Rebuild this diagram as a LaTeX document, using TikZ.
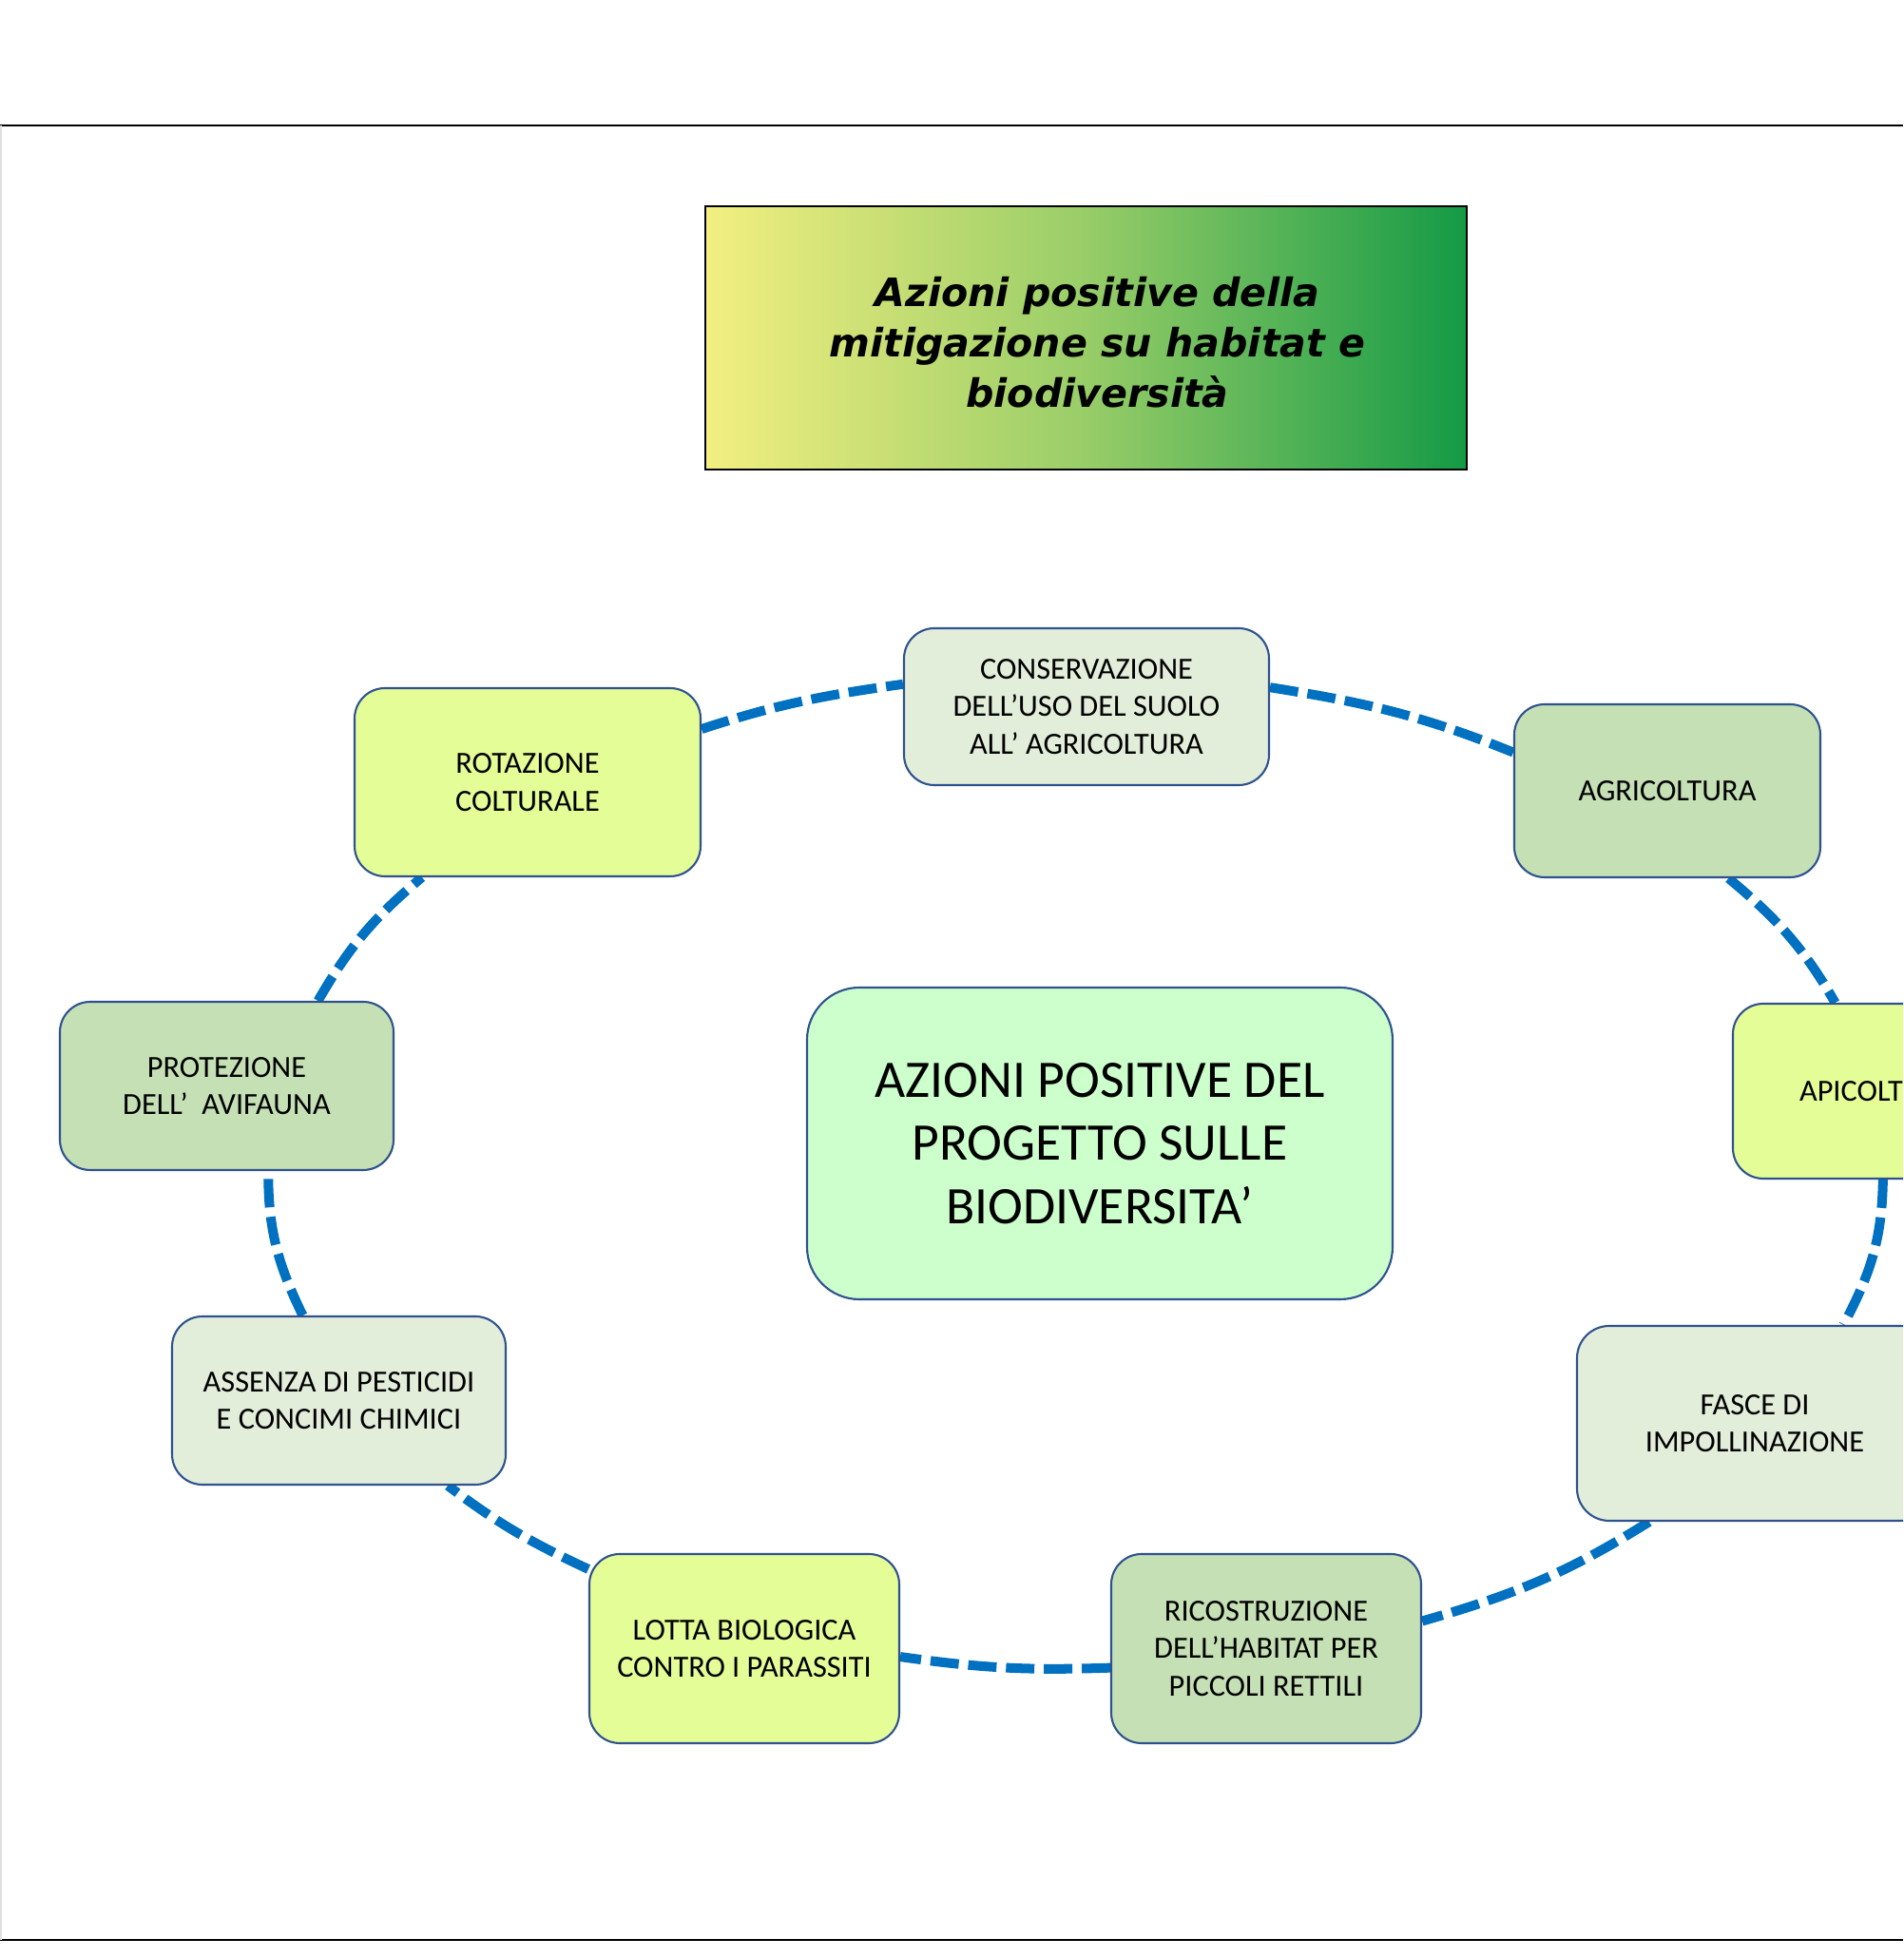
\documentclass[tikz,border=0pt]{standalone}
\usepackage{fontspec}
\setmainfont{Carlito}
\newfontfamily\titlefont{DejaVu Sans}
\usetikzlibrary{positioning}
\definecolor{boxline}{RGB}{47,82,143}
\definecolor{ringblue}{RGB}{0,112,192}
\definecolor{palefill}{RGB}{226,238,218}
\definecolor{greenfill}{RGB}{197,224,180}
\definecolor{limefill}{RGB}{228,253,150}
\definecolor{mintfill}{RGB}{204,255,204}
\definecolor{tyellow}{RGB}{243,239,128}
\definecolor{tmid}{RGB}{152,205,104}
\definecolor{tgreen}{RGB}{20,154,70}
\pgfdeclarelayer{bg}
\pgfsetlayers{bg,main}
\tikzstyle{box}=[shape=rectangle, rounded corners=0.32cm, draw=boxline, line width=0.6pt, align=center, inner sep=2pt, font=\fontsize{9.2}{11.2}\selectfont]
\tikzstyle{boxp}=[box, fill=palefill]
\tikzstyle{boxg}=[box, fill=greenfill]
\tikzstyle{boxy}=[box, fill=limefill]
\tikzstyle{ring}=[draw=ringblue, line width=2.85pt, dash pattern=on 8.5pt off 2.85pt]

\begin{document}
\begin{tikzpicture}
\useasboundingbox (0,0) rectangle (20.02,20.6);
\clip (0,0) rectangle (20.02,20.6);
%slide frame
\draw[line width=0.6pt] (0,19.28) -- (20.02,19.28);
\draw[line width=0.6pt] (0,0.19) -- (20.02,0.19);
\draw[black!12, line width=0.3pt] (0.01,0.19) -- (0.01,19.28);
%title
\node[draw=black, line width=0.6pt, left color=tyellow, right color=tgreen, middle color=tmid, minimum width=8.01cm, minimum height=2.77cm] (title) at (11.425,17.045) {};
\node[align=center, font=\titlefont\bfseries\itshape\fontsize{11.7}{15.1}\selectfont] (titletext) at ([xshift=0.12cm, yshift=-0.05cm]title.center) {Azioni positive della\\mitigazione su habitat e\\biodiversità};
%centre
\node[box, fill=mintfill, rounded corners=0.55cm, minimum width=6.16cm, minimum height=3.28cm, font=\fontsize{15.8}{18.9}\selectfont] (hub) at (11.57,8.57) {AZIONI POSITIVE DEL\\PROGETTO SULLE\\BIODIVERSITA’};
%boxes round the ring
\node[boxp, minimum width=3.84cm, minimum height=1.65cm] (cons) at (11.43,13.165) {CONSERVAZIONE\\DELL’USO DEL SUOLO\\ALL’ AGRICOLTURA};
\node[boxy, minimum width=3.64cm, minimum height=1.98cm] (rot) at (5.55,12.37) {ROTAZIONE\\COLTURALE};
\node[boxg, minimum width=3.22cm, minimum height=1.82cm] (agri) at (17.54,12.28) {AGRICOLTURA};
\node[boxy, minimum width=3.06cm, minimum height=1.84cm] (api) at (19.76,9.12) {APICOLTURA};
\node[boxp, minimum width=3.74cm, minimum height=2.05cm, rounded corners=0.34cm] (fasce) at (18.46,5.625) {FASCE DI\\IMPOLLINAZIONE};
\node[boxg, minimum width=3.26cm, minimum height=1.99cm] (ric) at (13.32,3.255) {RICOSTRUZIONE\\DELL’HABITAT PER\\PICCOLI RETTILI};
\node[boxy, minimum width=3.26cm, minimum height=1.99cm] (lotta) at (7.83,3.255) {LOTTA BIOLOGICA\\CONTRO I PARASSITI};
\node[boxp, minimum width=3.51cm, minimum height=1.77cm] (ass) at (3.565,5.865) {ASSENZA DI PESTICIDI\\E CONCIMI CHIMICI};
\node[boxg, minimum width=3.51cm, minimum height=1.77cm] (prot) at (2.385,9.175) {PROTEZIONE\\DELL’~ AVIFAUNA};
%ring
\begin{pgfonlayer}{bg}
\draw[ring] (rot.17) to[out=18, in=188] (cons.173);
\draw[ring] (cons.6) to[out=-9, in=158] (agri.166);
\draw[ring] (agri.305) to[out=-40, in=120] (api.116);
\draw[ring] (api.273) to[out=-91, in=62] (fasce.48);
\draw[ring] (fasce.223) to[out=212, in=16] (ric.10);
\draw[ring] (ric.187) to[out=182, in=-8] (lotta.357);
\draw[ring] (lotta.153) to[out=155, in=-37] (ass.322);
\draw[ring] (ass.113) to[out=116, in=-90] (prot.296);
\draw[ring] (prot.43) to[out=60, in=220] (rot.222);
\end{pgfonlayer}
\end{tikzpicture}
\end{document}
